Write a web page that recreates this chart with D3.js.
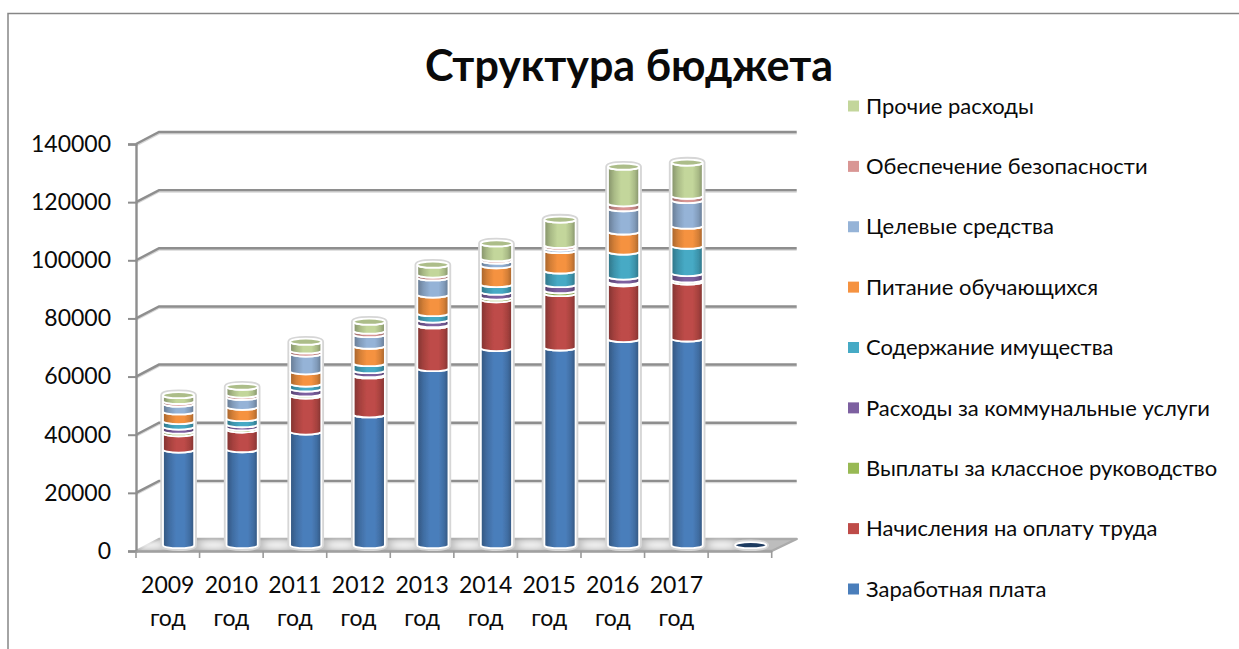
<!DOCTYPE html>
<html>
<head>
<meta charset="utf-8" />
<title>Структура бюджета</title>
<script src="https://cdnjs.cloudflare.com/ajax/libs/d3/7.8.5/d3.min.js"></script>
<style>
  html, body { margin: 0; padding: 0; background: #fff; overflow: hidden; }
  text { font-family: Lato, "Noto Sans", sans-serif; fill: #0a0a0a; }
</style>
</head>
<body>
<svg id="chart" width="1239" height="649"></svg>
<script>
const title = 'Структура бюджета'
const categories = ['2009 год', '2010 год', '2011 год', '2012 год', '2013 год', '2014 год', '2015 год', '2016 год', '2017 год', '']
const yTicks = [0, 20000, 40000, 60000, 80000, 100000, 120000, 140000]

const seriesNames = ['Заработная плата', 'Начисления на оплату труда', 'Выплаты за классное руководство',
  'Расходы за коммунальные услуги', 'Содержание имущества', 'Питание обучающихся',
  'Целевые средства', 'Обеспечение безопасности', 'Прочие расходы']

const zarplata = [32900, 33000, 39100, 45000, 60900, 67800, 68000, 70900, 71100, 0]
const nachisleniya = [5600, 6800, 12400, 13400, 14700, 16800, 18700, 19200, 19600, 0]
const klassnoe = [900, 700, 700, 400, 400, 900, 1000, 600, 700, 0]
const kommunalnye = [1400, 1100, 1700, 1400, 1600, 1700, 2100, 1700, 2200, 0]
const imushchestvo = [1900, 2100, 1700, 2400, 2200, 2600, 4700, 8600, 9400, 0]
const pitanie = [3300, 3900, 4200, 6000, 6400, 6500, 7000, 6900, 6900, 0]
const tselevye = [2700, 3400, 6100, 4000, 5900, 1600, 900, 8000, 8800, 0]
const bezopasnost = [900, 800, 1100, 1200, 1000, 800, 900, 1700, 1500, 0]
const prochie = [2000, 2700, 3000, 3100, 3400, 5100, 8700, 12600, 11400, 0]

const seriesValues = [zarplata, nachisleniya, klassnoe, kommunalnye, imushchestvo, pitanie, tselevye, bezopasnost, prochie]
const colors = ['#4a7ebb', '#be4b48', '#98b954', '#7d60a0', '#46aac5', '#f59240', '#95b3d7', '#d99694', '#c3d69b']

const svg = d3.select('#chart')
const defs = svg.append('defs')

// frame of the pasted chart, only top and left edges are in view
svg.append('path').attr('d', 'M8,649V13.5H1239').attr('fill', 'none').attr('stroke', '#868686').attr('stroke-width', 1.5)

svg.append('text').attr('x', 629).attr('y', 81).attr('text-anchor', 'middle')
  .style('font-size', '43px').style('font-weight', 700).text(title)

const x = d3.scaleBand().domain(d3.range(categories.length)).range([136, 771.7])
const y = d3.scaleLinear().domain([0, 140000]).range([551, 144])

// 3d offsets
const depthX = 23, depthY = 12
const barShift = 10.8, barLift = 5.8
const rx = x.bandwidth() * 0.245, ry = 3

// gradients, one per series, dark at the edges of the cylinder
colors.forEach((c, i) => {
  const g = defs.append('linearGradient').attr('id', 'cyl' + i)
  const stops = [[0, d3.color(c).darker(1.1)], [0.2, d3.color(c).darker(0.4)], [0.42, d3.color(c)], [0.68, d3.color(c)], [0.86, d3.color(c).darker(0.4)], [1, d3.color(c).darker(1.1)]]
  stops.forEach(s => g.append('stop').attr('offset', s[0]).attr('stop-color', s[1]))
})
defs.append('filter').attr('id', 'soft').append('feGaussianBlur').attr('stdDeviation', 0.5)
defs.append('filter').attr('id', 'soft3').attr('x', '-50%').attr('width', '200%').attr('y', '-100%').attr('height', '300%')
  .append('feGaussianBlur').attr('stdDeviation', 3)

// floor
const x0 = x.range()[0], x1 = x.range()[1], y0 = y(0)
svg.append('path')
  .attr('d', `M${x0},${y0}L${x0 + depthX},${y0 - depthY}H${x1 + depthX + 2}L${x1},${y0}Z`)
  .attr('fill', '#bdbdbd').attr('stroke', '#ababab').attr('stroke-width', 2.4).attr('stroke-linejoin', 'round')
svg.append('g').attr('filter', 'url(#soft3)')
  .selectAll('ellipse').data(d3.range(categories.length)).enter().append('ellipse')
  .attr('cx', i => x(i) + 14).attr('cy', y0 - 6).attr('rx', 15).attr('ry', 3.5).attr('fill', '#fff')

// walls
const grid = svg.append('g').attr('fill', 'none')
const gridPath = v => `M${x0},${y(v)}L${x0 + depthX},${y(v) - depthY}H${x1 + depthX + 2}`
grid.selectAll('path.shadow').data(yTicks.slice(1)).enter().append('path').attr('class', 'shadow')
  .attr('d', gridPath).attr('transform', 'translate(0,1.5)').attr('stroke', '#d8d8d8').attr('stroke-width', 2)
grid.selectAll('path.line').data(yTicks.slice(1)).enter().append('path').attr('class', 'line')
  .attr('d', gridPath).attr('stroke', '#8e8e8e').attr('stroke-width', 2.4)

// axes
const yAxis = d3.axisLeft(y).tickValues(yTicks).tickSize(8).tickPadding(17).tickFormat(d3.format('d'))
const gy = svg.append('g').attr('transform', `translate(${x0},0)`).call(yAxis)
gy.select('.domain').attr('stroke', '#8e8e8e').attr('stroke-width', 2.4)
gy.selectAll('.tick line').attr('stroke', '#8e8e8e').attr('stroke-width', 2)
gy.selectAll('text').style('font-size', '23px').attr('font-family', null)

const xAxis = d3.axisBottom(x).tickSize(0).tickFormat(i => categories[i])
const gx = svg.append('g').attr('transform', `translate(0,${y0})`).call(xAxis)
gx.select('.domain').attr('stroke', '#a0a0a0').attr('stroke-width', 2.4)
gx.selectAll('.tick text').each(function(i) {
  const parts = categories[i].split(' ')
  const t = d3.select(this).text(null).attr('y', 0).attr('dy', null).style('font-size', '23px')
  parts.forEach((p, k) => t.append('tspan').attr('x', 0).attr('y', 42 + k * 33).text(p))
})
gx.selectAll('.tick-mark').data(d3.range(categories.length + 1)).enter().append('line')
  .attr('x1', i => x0 + i * x.step()).attr('x2', i => x0 + i * x.step())
  .attr('y1', 0).attr('y2', 7).attr('stroke', '#9a9a9a').attr('stroke-width', 1.6)

// cylinders
const rows = categories.map((c, i) => { const r = { i }; seriesValues.forEach((s, k) => r[k] = s[i]); return r })
const stacked = d3.stack().keys(d3.range(seriesValues.length))(rows)

const sideY = v => y(v) - barLift
const cx = i => x(i) + x.bandwidth() / 2 + barShift
const seg = (i, a, b) => {
  const l = cx(i) - rx, r = cx(i) + rx
  return `M${l},${sideY(b)}A${rx},${ry} 0 0 0 ${r},${sideY(b)}V${sideY(a)}A${rx},${ry} 0 0 1 ${l},${sideY(a)}Z`
}
const totals = rows.map(r => d3.sum(seriesValues, (s, k) => r[k]))
const bars = svg.append('g').attr('filter', 'url(#soft)')

// grey halo behind each cylinder
bars.selectAll('path.halo').data(rows).enter().append('path').attr('class', 'halo')
  .attr('d', d => {
    const l = cx(d.i) - rx, r = cx(d.i) + rx, t = sideY(totals[d.i]), b = sideY(0)
    return `M${l},${t}A${rx},${ry} 0 0 1 ${r},${t}V${b}A${rx},${ry} 0 0 1 ${l},${b}Z`
  })
  .attr('fill', '#fff').attr('stroke', '#d6d6d6').attr('stroke-width', 5.5)

stacked.forEach((layer, k) => {
  bars.append('g').selectAll('path').data(layer.filter(d => d.data.i < 9)).enter().append('path')
    .attr('d', d => seg(d.data.i, d[0], d[1]))
    .attr('fill', `url(#cyl${k})`)
    .attr('stroke', '#fff').attr('stroke-width', 1.8)
})

// top caps
bars.selectAll('ellipse.cap').data(rows).enter().append('ellipse').attr('class', 'cap')
  .attr('cx', d => cx(d.i)).attr('cy', d => sideY(totals[d.i]))
  .attr('rx', rx).attr('ry', ry)
  .attr('fill', d => totals[d.i] > 0 ? d3.color(colors[8]).darker(0.35) : '#1f3a60')
  .attr('stroke', '#fff').attr('stroke-width', 1.8)

// legend, reversed like the stack
const legendY = d3.scalePoint().domain(d3.range(seriesNames.length).reverse()).range([106, 589])
const legend = svg.append('g').selectAll('g').data(d3.range(seriesNames.length)).enter().append('g')
  .attr('transform', k => `translate(848,${legendY(k)})`)
legend.append('rect').attr('x', 0).attr('y', -5.5).attr('width', 11).attr('height', 11).attr('fill', k => colors[k])
legend.append('text').attr('x', 18).attr('dy', '0.35em').style('font-size', '22px').text(k => seriesNames[k])
</script>
</body>
</html>
